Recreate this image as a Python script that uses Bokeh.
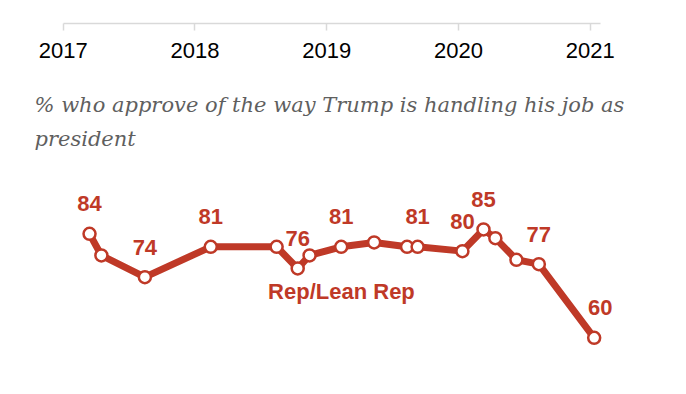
from bokeh.plotting import figure
from bokeh.models import Range1d, FixedTicker, Label, ColumnDataSource
from bokeh.layouts import column
from bokeh.embed import file_html
from bokeh.resources import INLINE
from bokeh.core.properties import value

# ---- data ----
survey_dates = [2017.20, 2017.29, 2017.62, 2018.12, 2018.62, 2018.78, 2018.87,
                2019.11, 2019.36, 2019.61, 2019.69, 2020.03, 2020.19, 2020.28,
                2020.44, 2020.61, 2021.03]
approve = [84, 79, 74, 81, 81, 76, 79, 81, 82, 81, 81, 80, 85, 83, 78, 77, 60]
show_label = [True, False, True, True, False, True, False, True, False, False,
              True, True, True, False, False, True, True]
year_ticks = [2017, 2018, 2019, 2020, 2021]
series_name = "Rep/Lean Rep"
subtitle_lines = ["% who approve of the way Trump is handling his job as",
                  "president"]

RED = "#bf3927"
LEFT = 8
W = 670
x_range = Range1d(2016.585, 2021.670)

# ---- top year axis ----
top = figure(width=W + LEFT, height=70, x_range=x_range, y_range=Range1d(0, 1),
             output_backend="svg", toolbar_location=None,
             x_axis_location="below", y_axis_location=None,
             min_border_left=LEFT, min_border_right=0,
             min_border_top=22, min_border_bottom=47)
top.outline_line_color = None
top.grid.visible = False
xa = top.xaxis[0]
xa.ticker = FixedTicker(ticks=year_ticks)
xa.bounds = (2017, 2021.078)
xa.axis_line_color = "#d9d9d9"
xa.axis_line_width = 1.5
xa.major_tick_line_color = "#d9d9d9"
xa.major_tick_line_width = 1.5
xa.major_tick_out = 7
xa.major_tick_in = 0
xa.minor_tick_out = 0
xa.minor_tick_in = 0
xa.major_label_text_font = "Liberation Sans"
xa.major_label_text_font_size = "22px"
xa.major_label_text_color = "#000000"
xa.major_label_standoff = 12

# ---- main chart ----
p = figure(width=W + LEFT, height=316, x_range=x_range, y_range=Range1d(48.76, 121.69),
           output_backend="svg", toolbar_location=None,
           x_axis_location=None, y_axis_location=None,
           min_border_left=LEFT, min_border_right=0,
           min_border_top=0, min_border_bottom=0)
p.outline_line_color = None
p.grid.visible = False

src = ColumnDataSource(dict(date=survey_dates, approve=approve))
p.line(x="date", y="approve", source=src, line_width=7, line_color=RED,
       line_join="round", line_cap="round")
p.scatter(x="date", y="approve", source=src, size=12, fill_color="white",
          line_color=RED, line_width=2.5)

lab_d = [d for d, s in zip(survey_dates, show_label) if s]
lab_v = [v for v, s in zip(approve, show_label) if s]
lab_src = ColumnDataSource(dict(date=lab_d[:-1], approve=lab_v[:-1],
                                text=[str(v) for v in lab_v[:-1]]))
last_src = ColumnDataSource(dict(date=lab_d[-1:], approve=lab_v[-1:],
                                 text=[str(v) for v in lab_v[-1:]]))
common = dict(text_font=value("Liberation Sans"), text_font_style="bold",
              text_font_size="22px", text_color=RED, text_align="center",
              text_baseline="alphabetic")
p.text(x="date", y="approve", text="text", source=lab_src,
       x_offset=0, y_offset=-30, **common)
p.text(x="date", y="approve", text="text", source=last_src,
       x_offset=6, y_offset=-30, **common)

p.add_layout(Label(x=2019.112, y=70.6, text=series_name, text_align="center",
                   text_baseline="alphabetic", text_font="Liberation Sans",
                   text_font_style="bold", text_font_size="22px",
                   text_color=RED))

for line_text, ys in zip(subtitle_lines, [282, 247.3]):
    p.add_layout(Label(x=26, y=ys, x_units="screen", y_units="screen",
                       text=line_text, text_align="left",
                       text_baseline="alphabetic", text_font="DejaVu Serif",
                       text_font_style="italic", text_font_size="21px",
                       text_color="#5f5f5f"))

layout = column(top, p)
open("out.html", "w").write(file_html(layout, INLINE))
